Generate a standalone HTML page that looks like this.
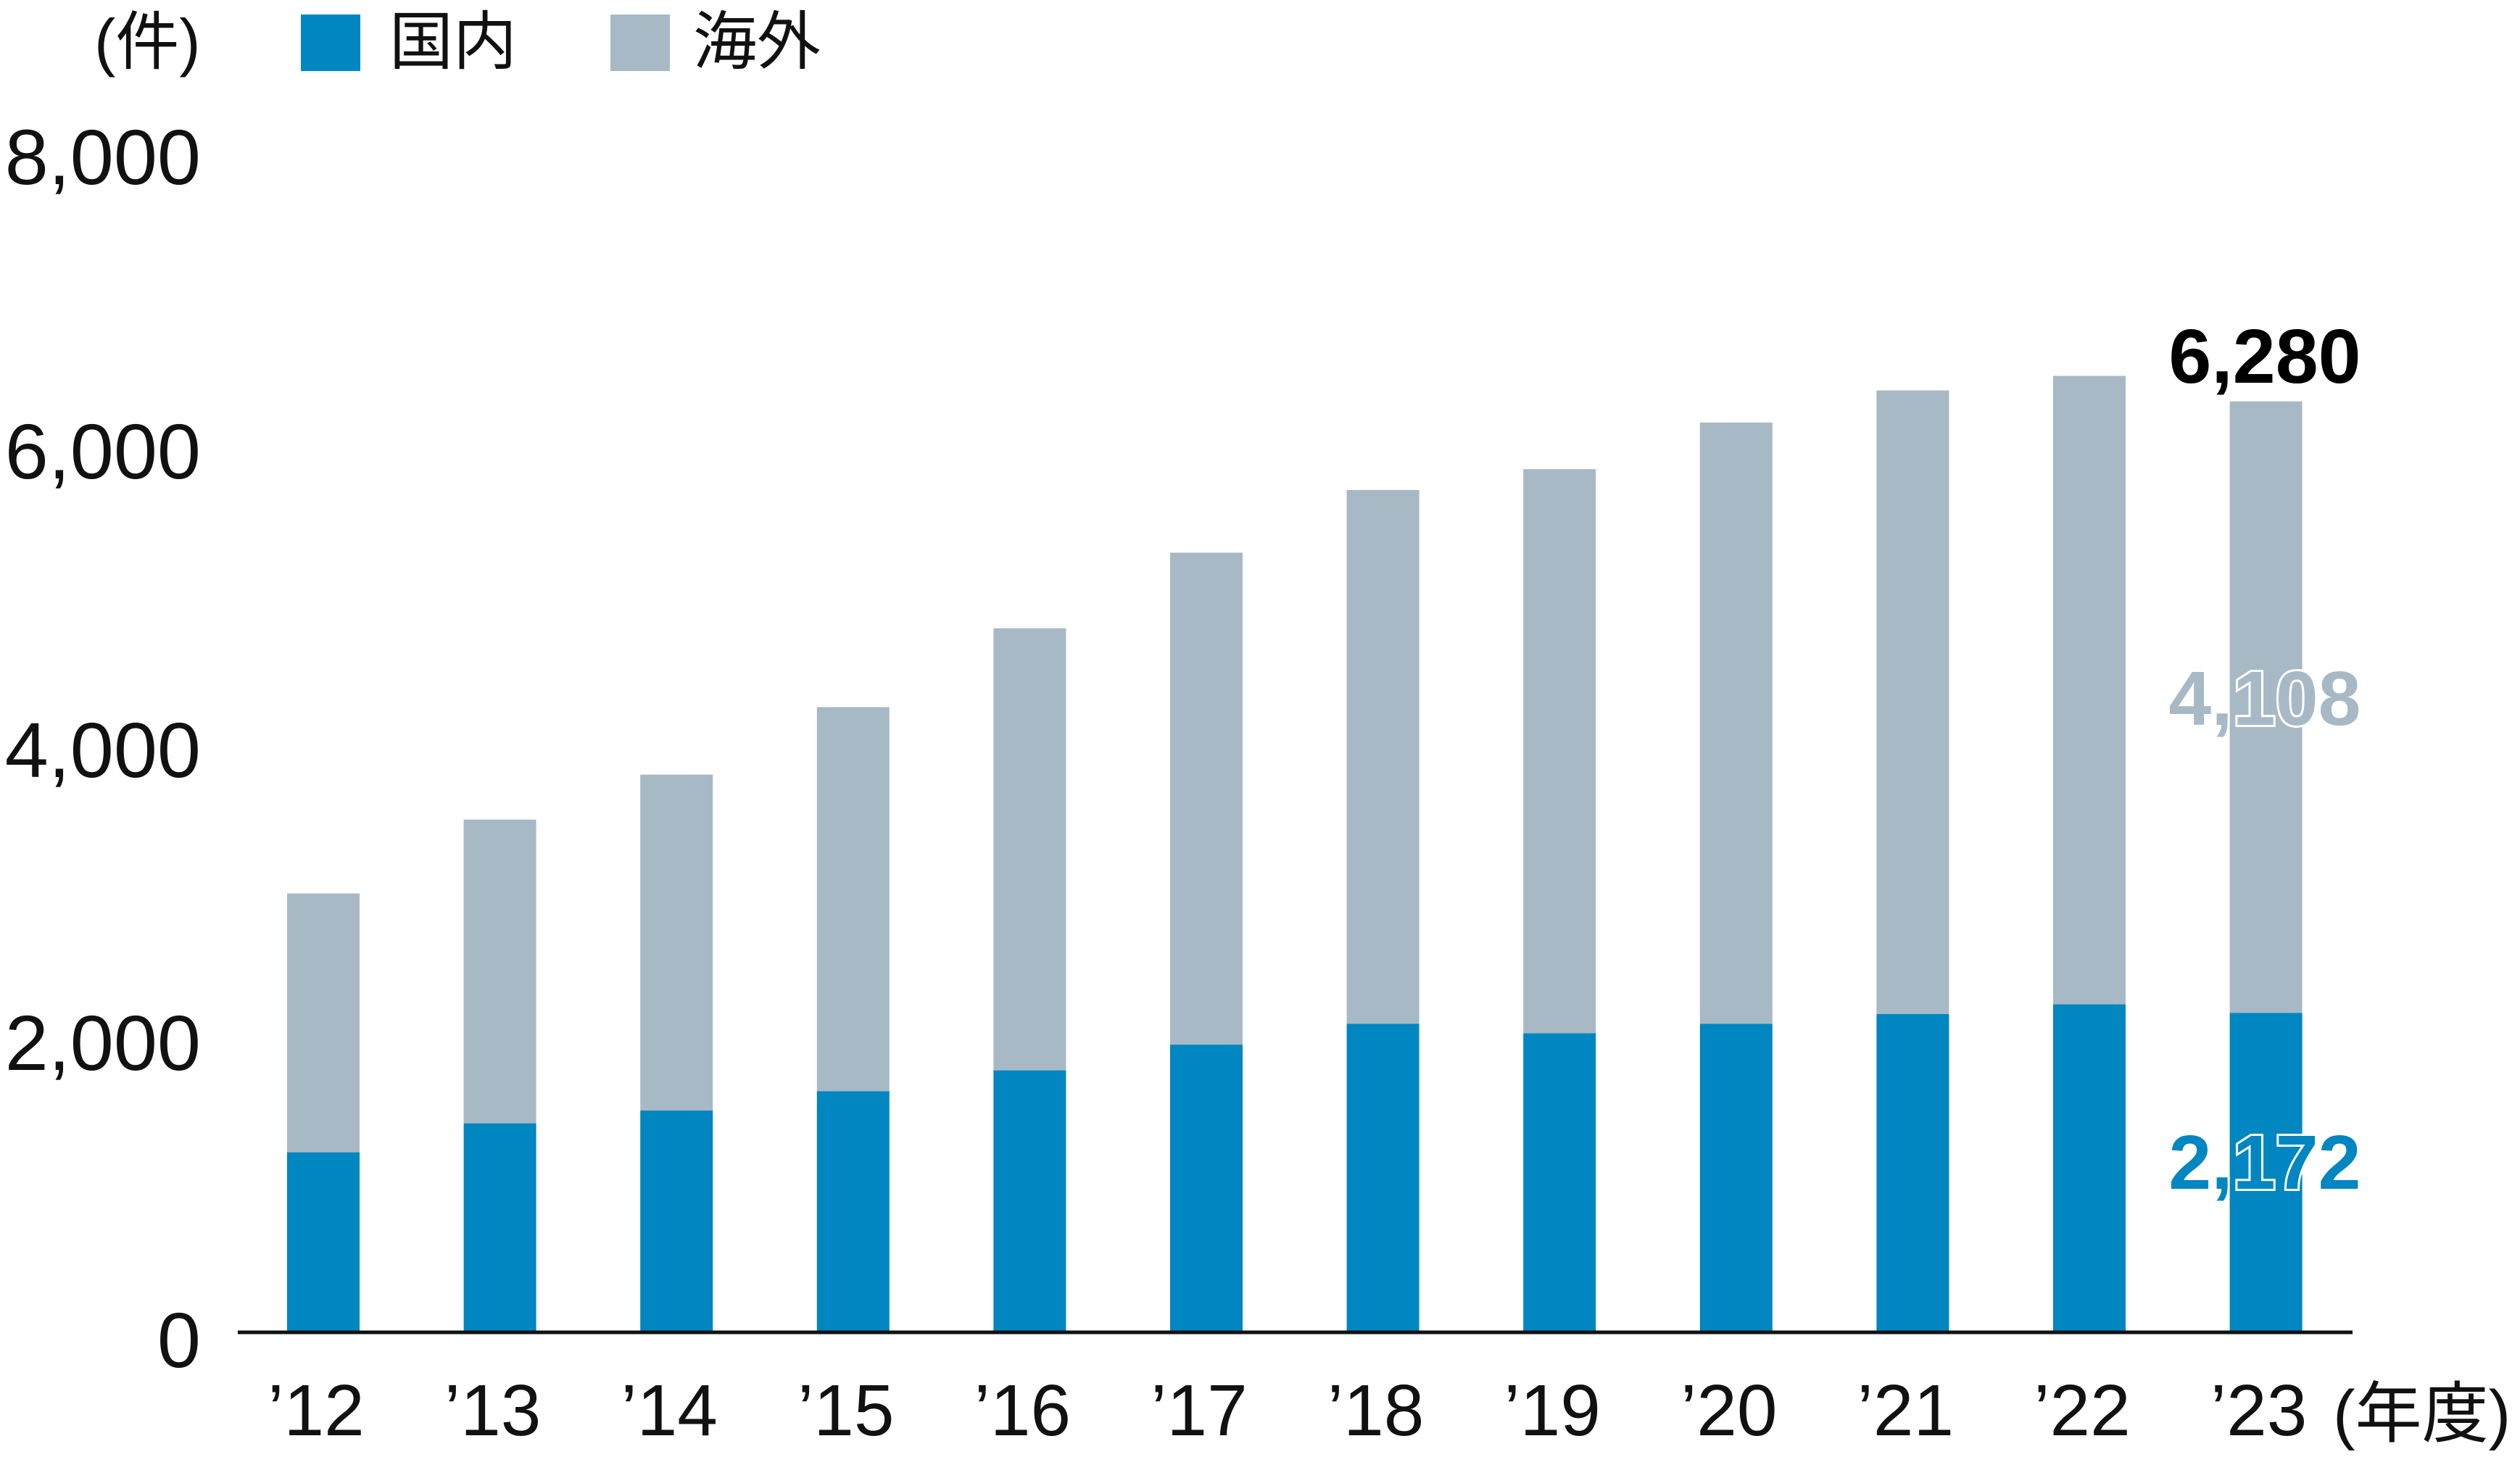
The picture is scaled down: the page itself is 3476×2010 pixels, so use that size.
<!DOCTYPE html>
<html><head><meta charset="utf-8"><style>
html,body{margin:0;padding:0;background:#fff;}
svg{display:block;}
text{font-family:"Liberation Sans","Noto Sans CJK JP",sans-serif;}
</style></head><body>
<svg width="3476" height="2010" viewBox="0 0 3476 2010" xmlns="http://www.w3.org/2000/svg">
<text x="130" y="88" font-size="88" fill="#111">(件)</text>
<rect x="415" y="20" width="82" height="78" fill="#0086c0"/>
<text x="537" y="88" font-size="88" fill="#111">国内</text>
<rect x="842" y="20" width="82" height="78" fill="#a7b9c5"/>
<text x="956" y="88" font-size="88" fill="#111">海外</text>
<g font-size="108" fill="#111" text-anchor="end">
<text x="277" y="254">8,000</text>
<text x="277" y="660">6,000</text>
<text x="277" y="1072">4,000</text>
<text x="277" y="1476">2,000</text>
<text x="277" y="1886">0</text>
</g>
<g id="bars"></g>
<line x1="328" y1="1838" x2="3245" y2="1838" stroke="#111" stroke-width="5"/>
<g id="xl" font-size="100" fill="#111" text-anchor="middle"></g>
<text x="3218" y="1982" font-size="92" fill="#111">(年度)</text>
<text x="3124" y="528" font-size="106" font-weight="bold" fill="#000" text-anchor="middle">6,280</text>
<text x="3124" y="1000" font-size="106" font-weight="bold" fill="#a7b9c5" stroke="#fff" stroke-width="6" paint-order="stroke" text-anchor="middle">4,108</text>
<text x="3124" y="1640" font-size="106" font-weight="bold" fill="#0086c0" stroke="#fff" stroke-width="6" paint-order="stroke" text-anchor="middle">2,172</text>
</svg>
<script>
var tot=[2984,3486,3792,4251,4787,5301,5727,5869,6186,6404,6503,6330];
var dom=[1224,1421,1508,1639,1781,1956,2098,2033,2098,2164,2230,2172];
var ns="http://www.w3.org/2000/svg",g=document.getElementById("bars"),xl=document.getElementById("xl");
function y(v){return 1838-v*0.2029;}
for(var i=0;i<12;i++){
 var cx=446+i*243.6,x=cx-50;
 var r=document.createElementNS(ns,"rect");r.setAttribute("x",x);r.setAttribute("width",100);
 r.setAttribute("y",y(tot[i]));r.setAttribute("height",y(dom[i])-y(tot[i]));r.setAttribute("fill","#a7b9c5");g.appendChild(r);
 var b=document.createElementNS(ns,"rect");b.setAttribute("x",x);b.setAttribute("width",100);
 b.setAttribute("y",y(dom[i]));b.setAttribute("height",1838-y(dom[i]));b.setAttribute("fill","#0086c0");g.appendChild(b);
 var t=document.createElementNS(ns,"text");t.setAttribute("x",cx-10);t.setAttribute("y",1980);
 t.textContent="\u2019"+(12+i);xl.appendChild(t);
}
</script>
</body></html>
